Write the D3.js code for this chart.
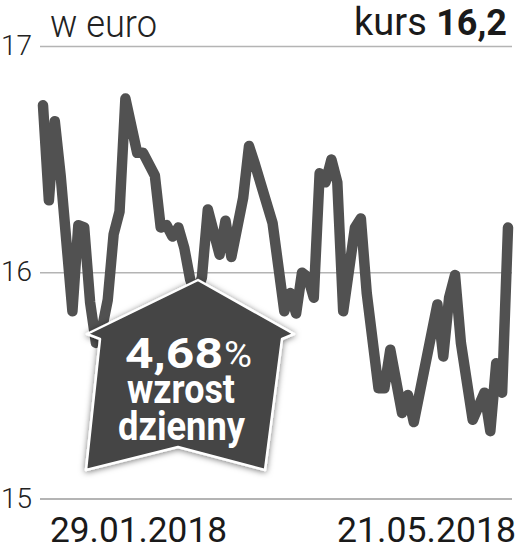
<!DOCTYPE html>
<html lang="pl">
<head>
<meta charset="UTF-8">
<title>kurs 16,2</title>
<script src="https://cdn.jsdelivr.net/npm/d3@7/dist/d3.min.js"></script>
<style>
  * { margin: 0; padding: 0; }
  body { background: #fff; width: 516px; height: 551px; overflow: hidden; }
  svg { display: block; font-family: Roboto, 'Noto Sans', sans-serif; }
</style>
</head>
<body>
<svg id="chart" width="516" height="551"></svg>
<script>
// trading-day index and closing price (EUR)
const days = [0, 1, 2, 3, 5, 6, 7, 8, 9, 10, 11, 12, 13, 14, 16, 17, 19, 20, 21, 22,
  23, 24, 25, 26, 27, 28, 30, 31, 32, 34, 35, 36, 39, 41, 42, 43, 44, 45, 46, 47,
  48, 49, 50, 51, 53, 54, 55, 57, 58, 59, 61, 62, 63, 67, 68, 69, 70, 71, 73, 75,
  76, 77, 78, 79];
const prices = [16.74, 16.32, 16.67, 16.43, 15.83, 16.21, 16.20, 15.87, 15.69, 15.75,
  15.88, 16.17, 16.27, 16.77, 16.53, 16.53, 16.43, 16.20, 16.21, 16.16,
  16.20, 16.11, 15.97, 15.90, 15.98, 16.28, 16.08, 16.23, 16.07, 16.33,
  16.56, 16.48, 16.22, 15.83, 15.91, 15.82, 16.00, 15.98, 15.89, 16.44,
  16.40, 16.50, 16.40, 15.83, 16.20, 16.24, 15.91, 15.49, 15.49, 15.66,
  15.38, 15.46, 15.34, 15.86, 15.63, 15.89, 15.99, 15.69, 15.35, 15.47,
  15.30, 15.60, 15.47, 16.20];
const yTicks = [15, 16, 17];
const dateLabels = ['29.01.2018', '21.05.2018'];
const unitLabel = 'w euro';
const lastLabel = ['kurs', '16,2'];
const badgeLines = ['4,68', '%', 'wzrost', 'dzienny'];

const data = days.map((d, i) => ({ day: d, price: prices[i] }));

const svg = d3.select('#chart');

const x = d3.scaleLinear().domain([0, 79]).range([43, 508]);
const y = d3.scaleLinear().domain([15, 17]).range([499, 46.5]);

// shadow for the badge
const defs = svg.append('defs');
const f = defs.append('filter').attr('id', 'shadow')
  .attr('x', '-20%').attr('y', '-20%').attr('width', '140%').attr('height', '140%');
f.append('feDropShadow').attr('dx', 0).attr('dy', 1).attr('stdDeviation', 3)
  .attr('flood-color', '#000').attr('flood-opacity', 0.55);

// gridlines + tick labels
const grid = svg.append('g');
grid.selectAll('line').data(yTicks).join('line')
  .attr('x1', 40).attr('x2', 512)
  .attr('y1', d => y(d)).attr('y2', d => y(d))
  .attr('stroke', '#b4b4b4')
  .attr('stroke-width', d => d === 15 ? 2 : 1.6);
grid.selectAll('text').data(yTicks).join('text')
  .attr('x', 1).attr('y', d => y(d) + 8.5)
  .attr('font-size', 28).attr('font-weight', 300).attr('fill', '#222')
  .text(d => d);

// header
svg.append('text').attr('x', 50).attr('y', 37)
  .attr('font-size', 38).attr('font-weight', 300).attr('fill', '#222')
  .attr('textLength', 107).attr('lengthAdjust', 'spacingAndGlyphs')
  .text(unitLabel);
const head = svg.append('text').attr('x', 507).attr('y', 35)
  .attr('text-anchor', 'end').attr('fill', '#1a1a1a');
head.append('tspan').attr('font-size', 38).attr('font-weight', 400).text(lastLabel[0] + ' ');
head.append('tspan').attr('font-size', 36).attr('font-weight', 700).text(lastLabel[1]);

// price line
const line = d3.line().x(d => x(d.day)).y(d => y(d.price));
svg.append('path').datum(data)
  .attr('d', line)
  .attr('fill', 'none')
  .attr('stroke', '#515151')
  .attr('stroke-width', 10.5)
  .attr('stroke-linejoin', 'round')
  .attr('stroke-linecap', 'round');

// date labels
svg.append('text').attr('x', 50).attr('y', 542)
  .attr('font-size', 35).attr('fill', '#1a1a1a')
  .attr('textLength', 177).attr('lengthAdjust', 'spacingAndGlyphs')
  .text(dateLabels[0]);
svg.append('text').attr('x', 516).attr('y', 542).attr('text-anchor', 'end')
  .attr('font-size', 35).attr('fill', '#1a1a1a')
  .attr('textLength', 179).attr('lengthAdjust', 'spacingAndGlyphs')
  .text(dateLabels[1]);

// badge (house-shaped arrow)
const badge = svg.append('g');
const shape = [[198, 280], [294, 334], [282, 339], [265, 470], [178, 447], [86, 470], [100, 339], [87, 334]];
badge.append('path')
  .attr('d', d3.line().curve(d3.curveLinearClosed)(shape))
  .attr('fill', '#444')
  .attr('stroke', '#fff')
  .attr('stroke-width', 2.5)
  .attr('stroke-linejoin', 'round')
  .attr('filter', 'url(#shadow)');

badge.append('text').attr('x', 125).attr('y', 368)
  .attr('font-size', 42).attr('font-weight', 700).attr('fill', '#fff')
  .attr('textLength', 98).attr('lengthAdjust', 'spacingAndGlyphs')
  .text(badgeLines[0]);
badge.append('text').attr('x', 224).attr('y', 367)
  .attr('font-size', 36).attr('font-weight', 400).attr('fill', '#fff')
  .attr('textLength', 28).attr('lengthAdjust', 'spacingAndGlyphs')
  .text(badgeLines[1]);
badge.append('text').attr('x', 127).attr('y', 403)
  .attr('font-size', 40).attr('font-weight', 700).attr('fill', '#fff')
  .attr('textLength', 108).attr('lengthAdjust', 'spacingAndGlyphs')
  .text(badgeLines[2]);
badge.append('text').attr('x', 118).attr('y', 440)
  .attr('font-size', 40).attr('font-weight', 700).attr('fill', '#fff')
  .attr('textLength', 127).attr('lengthAdjust', 'spacingAndGlyphs')
  .text(badgeLines[3]);
</script>
</body>
</html>
